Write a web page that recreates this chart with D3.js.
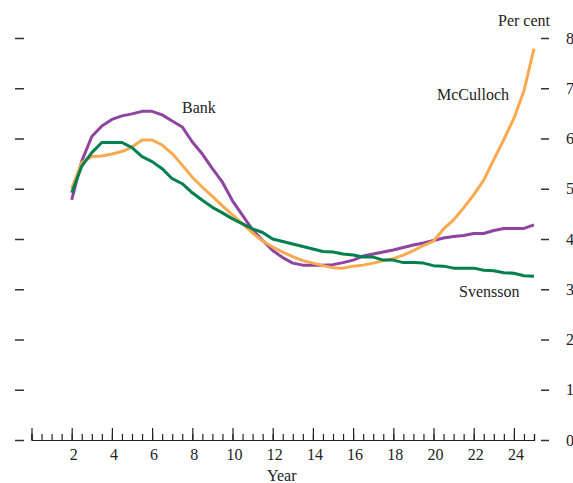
<!DOCTYPE html>
<html>
<head>
<meta charset="utf-8">
<script src="https://cdn.jsdelivr.net/npm/d3@7"></script>
<style>
  html, body { margin: 0; padding: 0; background: #fff; }
  svg text { font-family: "Liberation Serif", "Times New Roman", serif; fill: #222; }
</style>
</head>
<body>
<svg id="chart" width="573" height="483"></svg>
<script>
// Years at half-year steps from 2 to 25
const years = d3.range(2, 25.01, 0.5);

const bank = [4.78, 5.55, 6.04, 6.25, 6.38, 6.45, 6.49, 6.54, 6.54, 6.47,
  6.35, 6.23, 5.93, 5.69, 5.40, 5.13, 4.76, 4.47, 4.18, 3.97,
  3.77, 3.63, 3.52, 3.48, 3.48, 3.48, 3.49, 3.53, 3.58, 3.66,
  3.70, 3.74, 3.78, 3.83, 3.88, 3.92, 3.97, 4.02, 4.05, 4.07,
  4.11, 4.11, 4.17, 4.21, 4.21, 4.21, 4.28];

const mcculloch = [5.00, 5.52, 5.64, 5.65, 5.69, 5.74, 5.83, 5.97, 5.97, 5.87,
  5.70, 5.47, 5.23, 5.03, 4.85, 4.66, 4.48, 4.30, 4.12, 3.96,
  3.84, 3.74, 3.65, 3.57, 3.52, 3.47, 3.43, 3.42, 3.46, 3.48,
  3.52, 3.57, 3.61, 3.68, 3.77, 3.87, 3.96, 4.20, 4.38, 4.62,
  4.88, 5.17, 5.58, 5.98, 6.40, 6.95, 7.79];

const svensson = [4.92, 5.45, 5.72, 5.92, 5.92, 5.92, 5.82, 5.64, 5.54, 5.40,
  5.20, 5.10, 4.92, 4.77, 4.63, 4.52, 4.40, 4.30, 4.20, 4.13,
  4.00, 3.95, 3.90, 3.85, 3.80, 3.75, 3.74, 3.70, 3.68, 3.64,
  3.64, 3.58, 3.58, 3.53, 3.53, 3.52, 3.47, 3.46, 3.42, 3.42,
  3.42, 3.38, 3.37, 3.33, 3.32, 3.27, 3.26];

const xMajorTicks = d3.range(0, 25, 2);          // 0..24
const xMinorTicks = d3.range(0, 25.01, 0.5);
const xTickLabels = ["", "2", "4", "6", "8", "10", "12", "14", "16", "18", "20", "22", "24"];
const yTicks = [0, 1, 2, 3, 4, 5, 6, 7, 8];

const seriesNames = ["Bank", "McCulloch", "Svensson"];
const seriesColors = ["#8e44a0", "#f9a94e", "#00804e"];

const svg = d3.select("#chart");

const x = d3.scaleLinear().domain([0, 25]).range([31.5, 534]);
const y = d3.scaleLinear().domain([0, 8]).range([440, 38]);

// X axis: minor ticks
const minorAxis = d3.axisBottom(x).tickValues(xMinorTicks).tickSize(-6).tickFormat("");
const gMinor = svg.append("g").attr("transform", `translate(0,${y(0)})`).call(minorAxis);
gMinor.select(".domain").attr("stroke", "#222").attr("stroke-width", 1.2);
gMinor.selectAll(".tick line").attr("stroke", "#222").attr("stroke-width", 1.2);

// X axis: major ticks with labels
const majorAxis = d3.axisBottom(x).tickValues(xMajorTicks).tickSize(-12).tickPadding(9)
  .tickFormat((d, i) => xTickLabels[i]);
const gMajor = svg.append("g").attr("transform", `translate(0,${y(0)})`).call(majorAxis);
gMajor.select(".domain").remove();
gMajor.selectAll(".tick line").attr("stroke", "#222").attr("stroke-width", 1.2);
gMajor.selectAll(".tick text").attr("font-size", 16).attr("dx", 1.5)
  .attr("font-family", "Liberation Serif").attr("fill", "#222");

// Left y ticks (no labels)
const leftAxis = d3.axisRight(y).tickValues(yTicks).tickSize(9).tickFormat("");
const gLeft = svg.append("g").attr("transform", "translate(15,0)").call(leftAxis);
gLeft.select(".domain").remove();
gLeft.selectAll(".tick line").attr("stroke", "#333").attr("stroke-width", 1.5);

// Right y ticks with labels
const rightAxis = d3.axisRight(y).tickValues(yTicks).tickSize(8).tickPadding(17).tickFormat(d3.format("d"));
const gRight = svg.append("g").attr("transform", "translate(541,0)").call(rightAxis);
gRight.select(".domain").remove();
gRight.selectAll(".tick line").attr("stroke", "#333").attr("stroke-width", 1.5);
gRight.selectAll(".tick text").attr("font-size", 16)
  .attr("font-family", "Liberation Serif").attr("fill", "#222");

// Lines
const line = d3.line().x((d, i) => x(years[i])).y(d => y(d));
[bank, mcculloch, svensson].forEach((vals, k) => {
  svg.append("path")
    .datum(vals)
    .attr("fill", "none")
    .attr("stroke", seriesColors[k])
    .attr("stroke-width", 3)
    .attr("stroke-linejoin", "round")
    .attr("d", line);
});

// Labels
const labels = [
  { t: "Bank", x: 182, y: 113 },
  { t: "McCulloch", x: 437, y: 100 },
  { t: "Svensson", x: 459, y: 297 },
  { t: "Per cent", x: 498, y: 26 },
  { t: "Year", x: 267, y: 481 }
];
svg.selectAll("text.lbl").data(labels).enter().append("text")
  .attr("class", "lbl")
  .attr("x", d => d.x).attr("y", d => d.y)
  .attr("font-size", 16)
  .text(d => d.t);
</script>
</body>
</html>
